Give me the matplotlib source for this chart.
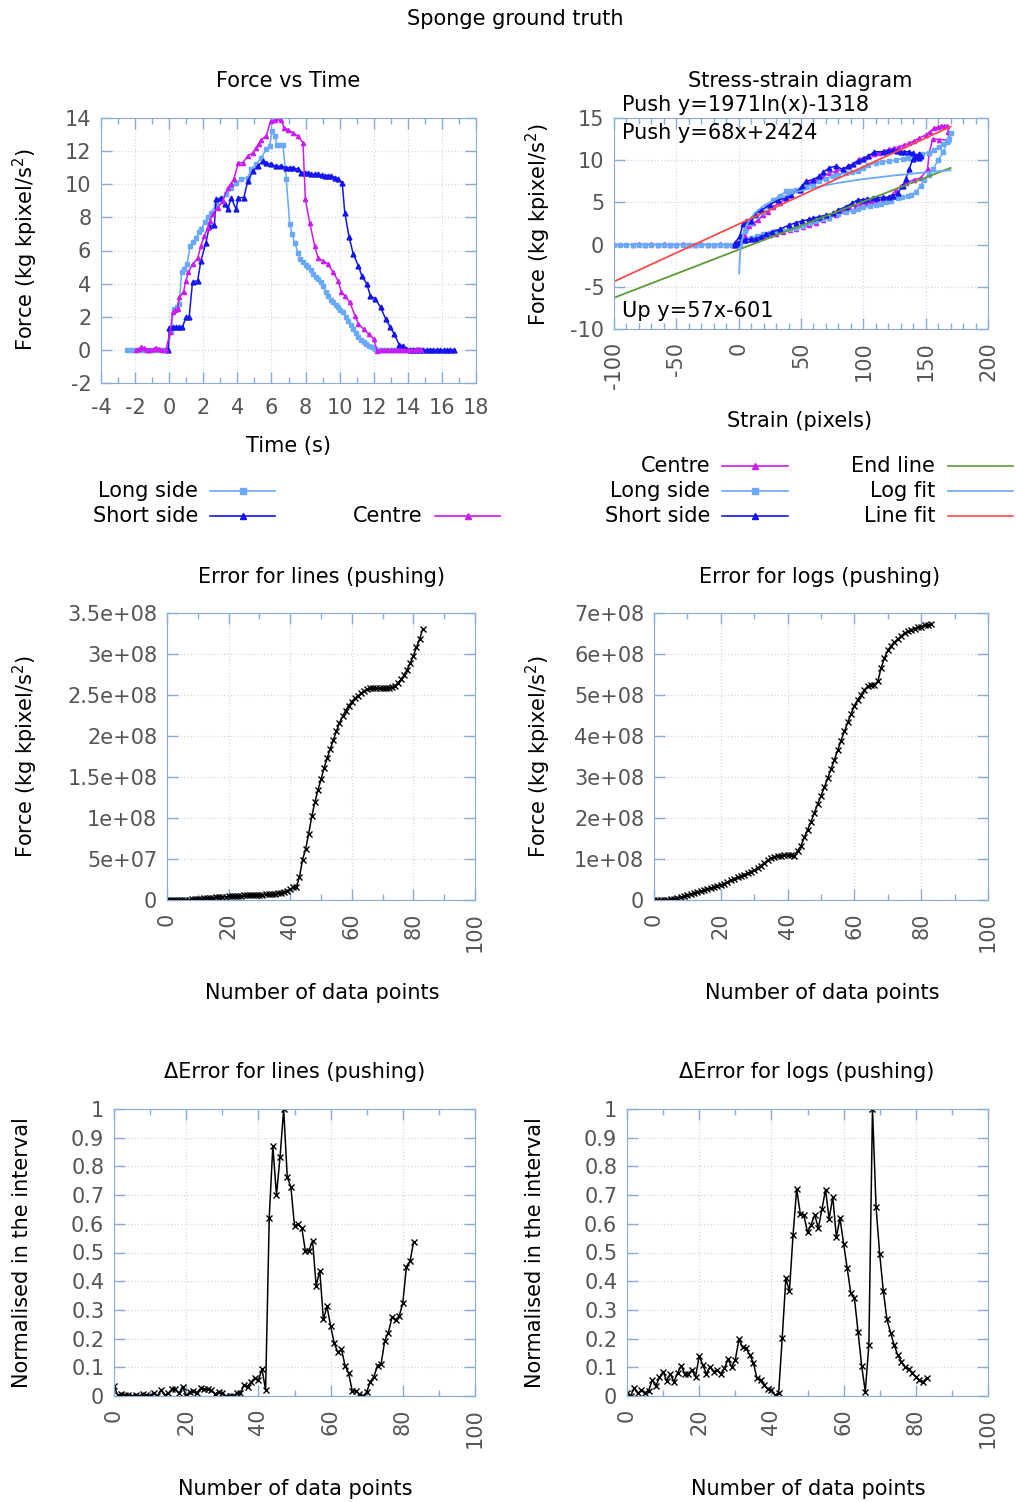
import matplotlib
matplotlib.use("Agg")
import matplotlib.pyplot as plt
from matplotlib.ticker import MultipleLocator, FuncFormatter
from matplotlib.lines import Line2D

# ---- Force vs Time (t [s], force) ----
long_side_t = [(-2.5, 0), (-2.3, 0), (-2.1, 0), (-1.9, 0), (-1.7, 0), (-1.5, 0), (-1.3, 0), (-1.1, 0),
               (-0.9, 0), (-0.7, 0), (-0.5, 0), (-0.3, 0), (-0.1, 0), (0.1, 1.06), (0.26, 2.47), (0.45, 2.6),
               (0.59, 2.77), (0.73, 4.68), (0.88, 4.9), (1.04, 5.18), (1.24, 6.28), (1.4, 6.5), (1.57, 6.78),
               (1.75, 7.1), (1.86, 7.28), (2.1, 7.73), (2.3, 8.0), (2.45, 8.29), (2.75, 8.73), (3.04, 9.09),
               (3.34, 9.39), (3.63, 9.79), (3.93, 10.09), (4.22, 10.3), (4.61, 10.4), (4.81, 10.9), (5.1, 11.2),
               (5.4, 11.6), (5.69, 12.1), (5.89, 12.3), (6.03, 13.2), (6.18, 12.9), (6.33, 12.4), (6.48, 12.4),
               (6.67, 12.4), (6.87, 10.3), (7.07, 7.63), (7.2, 7.0), (7.36, 6.48), (7.56, 5.84), (7.7, 5.5),
               (7.85, 5.28), (8.0, 5.1), (8.15, 4.98), (8.3, 4.8), (8.44, 4.58), (8.6, 4.4), (8.74, 4.27),
               (8.9, 4.1), (9.03, 3.87), (9.2, 3.5), (9.32, 3.27), (9.5, 3.0), (9.62, 2.87), (9.8, 2.7),
               (9.91, 2.57), (10.05, 2.4), (10.2, 2.27), (10.35, 2.0), (10.5, 1.77), (10.65, 1.5), (10.8, 1.26),
               (10.95, 1.0), (11.1, 0.76), (11.25, 0.6), (11.4, 0.46), (11.55, 0.35), (11.7, 0.26), (11.9, 0.15),
               (12.1, 0.06), (12.3, 0), (12.5, 0), (12.7, 0), (12.9, 0), (13.1, 0), (13.3, 0), (13.5, 0),
               (13.7, 0), (13.9, 0), (14.1, 0), (14.3, 0), (14.5, 0), (14.7, 0), (14.8, 0)]
short_side_t = [(-0.05, 0), (0.0, 1.3), (0.2, 1.36), (0.4, 1.36), (0.6, 1.36), (0.78, 1.36), (0.98, 1.97),
                (1.17, 1.97), (1.37, 4.11), (1.67, 4.17), (1.86, 5.38), (2.16, 6.48), (2.36, 7.49), (2.65, 7.53),
                (2.75, 9.09), (3.04, 9.15), (3.25, 8.8), (3.44, 8.49), (3.63, 9.19), (3.93, 8.49), (4.06, 9.19),
                (4.38, 9.19), (4.61, 10.2), (4.91, 10.8), (5.2, 11.1), (5.5, 11.4), (5.69, 11.3), (5.99, 11.2),
                (6.28, 11.1), (6.58, 11.1), (6.87, 11.0), (7.07, 11.0), (7.26, 11.0), (7.56, 10.9), (7.75, 10.7),
                (7.95, 10.7), (8.15, 10.65), (8.34, 10.6), (8.55, 10.6), (8.74, 10.6), (8.95, 10.55),
                (9.13, 10.5), (9.33, 10.5), (9.52, 10.5), (9.72, 10.4), (9.91, 10.3), (10.15, 10.1),
                (10.3, 8.29), (10.55, 6.84), (10.8, 5.78), (11.1, 5.08), (11.3, 4.47), (11.6, 3.97),
                (11.8, 3.27), (12.1, 3.07), (12.4, 2.57), (12.7, 1.87), (12.98, 1.36), (13.2, 0.96),
                (13.5, 0.3), (13.7, 0.26), (13.9, 0.06), (14.1, 0), (14.3, 0), (14.5, 0), (14.7, 0), (14.9, 0),
                (15.1, 0), (15.3, 0), (15.5, 0), (15.7, 0), (15.9, 0), (16.1, 0), (16.3, 0), (16.5, 0), (16.7, 0)]
centre_t = [(-1.96, 0), (-1.8, 0.05), (-1.65, 0.15), (-1.5, 0.1), (-1.3, 0.02), (-1.1, 0.02), (-0.9, 0.05),
            (-0.75, 0.1), (-0.6, 0.05), (-0.4, 0), (-0.2, -0.02), (0.06, 1.06), (0.2, 2.27), (0.35, 2.4),
            (0.49, 2.47), (0.59, 3.17), (0.84, 3.51), (0.98, 4.17), (1.12, 4.68), (1.37, 5.18), (1.67, 5.52),
            (1.86, 6.28), (2.06, 6.88), (2.26, 7.38), (2.4, 7.8), (2.55, 8.19), (2.85, 8.59), (3.14, 8.99),
            (3.44, 9.79), (3.6, 10.0), (3.79, 10.3), (4.06, 11.3), (4.32, 11.3), (4.61, 11.7), (4.91, 11.9),
            (5.1, 12.2), (5.25, 12.45), (5.4, 12.7), (5.69, 12.9), (5.95, 13.8), (6.18, 13.9), (6.38, 14.0),
            (6.58, 13.9), (6.73, 13.4), (6.97, 13.3), (7.26, 13.1), (7.56, 12.9), (7.85, 12.5), (7.99, 9.09),
            (8.24, 7.69), (8.54, 6.28), (8.74, 5.52), (9.03, 5.38), (9.32, 5.18), (9.62, 4.68), (9.91, 4.17),
            (10.1, 3.51), (10.3, 3.27), (10.6, 2.87), (10.9, 2.07), (11.1, 1.57), (11.4, 1.26), (11.7, 0.96),
            (12.0, 0.66), (12.2, -0.04), (12.4, 0), (12.6, 0), (12.8, 0), (13.0, 0), (13.2, 0), (13.4, 0),
            (13.6, 0), (13.8, 0), (14.0, 0), (14.2, 0), (14.4, 0), (14.6, 0.08), (14.8, 0)]

# ---- Stress-strain (strain [pixels], force) ----
centre_ss = [(-85, 0), (-80, 0.1), (-75, 0), (-70, 0.05), (-65, 0), (-60, 0.05), (-55, 0), (-50, 0),
             (-45, 0.05), (-40, 0), (-35, 0), (-30, 0.05), (-25, 0), (-20, 0), (-15, 0.05), (-10, 0), (-5, -0.05),
             (-2, 0.1), (0.8, 0.4), (4.8, 1.0), (6.1, 2.0), (8, 2.2), (11.5, 2.5), (15.5, 2.9), (19.5, 3.5),
             (23.5, 3.9), (27.5, 4.5), (32.8, 4.9), (38.1, 5.5), (42.1, 5.9), (47.5, 6.5), (51.5, 6.9),
             (56.8, 7.3), (62.1, 7.7), (67.5, 8.1), (72.8, 8.5), (78.1, 8.7), (83.5, 8.9), (88.8, 9.3),
             (92, 9.6), (96.8, 10.1), (100.8, 10.3), (104.8, 10.5), (108.8, 10.7), (112.8, 10.9), (116.8, 11.1),
             (120.8, 11.3), (124.8, 11.4), (128.8, 11.6), (132.8, 11.8), (136.8, 12.0), (140.8, 12.3),
             (144.8, 12.6), (150.1, 13.0), (153.5, 13.4), (156.8, 13.8), (160, 13.9), (162.1, 14.0), (165, 14.0),
             (167.5, 14.0), (168.3, 13.4), (168.8, 12.8), (167.5, 12.4), (161, 12.45), (155.5, 12.5),
             (152.8, 10.8), (151.5, 8.95), (146.1, 7.9), (140.8, 7.7), (134.1, 7.3), (130, 6.9), (126.1, 6.5),
             (122.1, 5.7), (118.8, 5.55), (115.5, 5.4), (110.1, 5.1), (106, 5.0), (102.1, 4.9), (98, 4.75),
             (94.1, 4.6), (88.8, 4.5), (83.5, 4.0), (78.1, 3.5), (72.8, 3.2), (67.5, 2.9), (62.1, 2.6),
             (56.8, 2.3), (51.5, 2.1), (46.1, 1.9), (40.8, 1.7), (35.5, 1.5), (30.1, 1.3), (24.8, 1.1),
             (19.5, 0.9), (14.1, 0.7), (10, 0.65), (6.1, 0.58), (0.8, 0.3), (-4.8, 0)]
long_side_ss = [(-100, 0), (-95, 0), (-90, 0), (-85, 0), (-80, 0), (-75, 0), (-70, 0), (-65, 0), (-60, 0),
                (-55, 0), (-50, 0), (-45, 0), (-40, 0), (-35, 0), (-30, 0), (-25, 0), (-20, 0), (-15, 0),
                (-10, 0), (-5, 0), (0, 0.2), (2, 1.0), (4.8, 1.6), (6, 2.5), (9.5, 2.6), (14.1, 3.4), (19.5, 3.9),
                (23, 4.6), (27.5, 5.3), (33, 5.8), (38.1, 6.3), (42, 6.4), (46.1, 6.5), (50, 6.6), (54.1, 6.9),
                (60, 7.2), (64.8, 7.5), (70, 7.8), (75.5, 8.1), (80, 8.3), (86.1, 8.5), (91, 8.6), (95.5, 8.7),
                (99.5, 9.1), (104, 9.4), (110.1, 9.7), (115, 9.8), (120.8, 9.9), (126, 10.0), (131.5, 10.2),
                (136, 10.3), (142.1, 10.5), (147, 10.7), (152.8, 10.9), (157, 11.2), (160.8, 11.6), (164, 11.9),
                (167.5, 12.1), (169, 12.5), (170, 13.2), (168, 12.3), (164, 11.0), (160, 10.0), (156, 9.0),
                (152.8, 8.3), (149, 7.6), (146, 7.0), (142.1, 6.2), (138, 5.9), (135.5, 5.7), (131, 5.6),
                (127.5, 5.5), (122, 5.2), (118.1, 5.0), (114, 4.85), (110.1, 4.7), (105, 4.55), (99.5, 4.4),
                (95.5, 4.2), (91.5, 4.0), (86.1, 3.9), (80, 3.6), (72.8, 3.2), (67, 3.0), (62.1, 2.8), (57, 2.5),
                (51.5, 2.2), (46, 2.0), (40.8, 1.8), (35, 1.7), (30.1, 1.6), (25, 1.4), (19.5, 1.2), (15, 1.0),
                (10.1, 0.8), (4.8, 0.4), (0.8, 0)]
short_side_ss = [(-3, 0.2), (0.8, 1.0), (3.5, 2.4), (6.1, 2.8), (10.2, 2.8), (12.8, 3.6), (18.1, 4.1),
                 (24.8, 4.7), (31.5, 5.3), (38.1, 5.5), (42.1, 5.9), (48.8, 6.5), (51, 7.0), (54.1, 7.5),
                 (59.5, 7.7), (64.8, 8.1), (68, 8.6), (72.8, 9.1), (78.1, 9.3), (83.5, 8.9), (87.5, 9.3),
                 (91.5, 9.5), (95.5, 9.9), (99.5, 10.1), (104, 10.5), (108.8, 11.0), (115.5, 11.0), (120, 11.1),
                 (123.5, 11.2), (127, 11.1), (130.1, 11.0), (133, 11.0), (136.8, 11.0), (140, 10.8),
                 (142.1, 10.5), (144.8, 10.3), (146, 10.5), (145, 10.7), (143, 10.4), (139.5, 10.1),
                 (136.8, 8.9), (134, 7.8), (131.5, 6.9), (127.5, 6.1), (124, 5.8), (120.8, 5.6), (115.5, 5.6),
                 (111, 5.55), (107.5, 5.5), (103, 5.4), (99.5, 5.3), (95.5, 5.3), (91, 4.9), (86.1, 4.5),
                 (80, 4.1), (75.5, 3.7), (70, 3.5), (64.8, 3.3), (60, 3.15), (56.8, 3.0), (51, 2.8), (46.1, 2.6),
                 (40, 2.3), (32.8, 1.8), (27, 1.5), (22.1, 1.2), (18, 0.95), (14.1, 0.7), (10, 0.65), (4.8, 0.6),
                 (-0.5, 0.2), (-3, 0)]
end_line = [(-100, -6.301), (170, 9.089)]          # Up y=57x-601
line_fit = [(-100, -4.376), (170, 13.984)]         # Push y=68x+2424
log_fit = [(0.35, -3.39), (1, -1.32), (2, 0.05), (4, 1.41), (7, 2.52), (10, 3.22), (15, 4.02), (20, 4.59),
           (30, 5.39), (45, 6.19), (60, 6.75), (80, 7.32), (100, 7.76), (125, 8.20), (150, 8.56), (170, 8.81)]

# ---- Errors (x = number of data points 0..83) ----
err_lines = [0, 0, 0, 0, 0.001, 0.002, 0.004, 0.006, 0.008, 0.01, 0.013, 0.016, 0.019, 0.022, 0.025, 0.028,
             0.031, 0.035, 0.038, 0.04, 0.043, 0.045, 0.047, 0.05, 0.052, 0.055, 0.057, 0.06, 0.062, 0.064,
             0.066, 0.067, 0.068, 0.07, 0.073, 0.077, 0.083, 0.09, 0.1, 0.11, 0.13, 0.155, 0.16, 0.28, 0.49,
             0.62, 0.81, 1.02, 1.19, 1.34, 1.47, 1.61, 1.73, 1.84, 1.95, 2.06, 2.16, 2.24, 2.31, 2.37, 2.42,
             2.46, 2.49, 2.52, 2.55, 2.57, 2.58, 2.58, 2.58, 2.58, 2.58, 2.58, 2.59, 2.6, 2.61, 2.65, 2.69,
             2.74, 2.81, 2.89, 2.98, 3.08, 3.18, 3.30]
err_logs = [0, 0.001, 0.003, 0.006, 0.01, 0.016, 0.03, 0.05, 0.07, 0.095, 0.12, 0.14, 0.165, 0.19, 0.215,
            0.24, 0.265, 0.29, 0.32, 0.345, 0.37, 0.4, 0.44, 0.48, 0.515, 0.55, 0.58, 0.62, 0.65, 0.69, 0.73,
            0.78, 0.84, 0.9, 0.97, 1.02, 1.05, 1.07, 1.08, 1.09, 1.1, 1.09, 1.08, 1.2, 1.32, 1.53, 1.71, 1.91,
            2.12, 2.34, 2.54, 2.75, 2.97, 3.19, 3.42, 3.65, 3.89, 4.11, 4.33, 4.54, 4.74, 4.88, 5.0, 5.13,
            5.21, 5.24, 5.25, 5.33, 5.66, 5.9, 6.09, 6.2, 6.29, 6.36, 6.44, 6.51, 6.55, 6.59, 6.62, 6.66,
            6.67, 6.7, 6.71, 6.72]
derr_lines = [0.035, 0.003, 0.006, 0.003, 0.003, 0.001, 0.003, 0.001, 0.006, 0.003, 0.001, 0.012, 0.0, 0.021,
              0.003, 0.009, 0.023, 0.023, 0.009, 0.033, 0.0, 0.015, 0.019, 0.012, 0.027, 0.023, 0.023, 0.021,
              0.007, 0.015, 0.009, 0.0, 0.0, 0.0, 0.009, 0.009, 0.038, 0.033, 0.05, 0.062, 0.056, 0.093, 0.021,
              0.62, 0.872, 0.7, 0.833, 1.0, 0.762, 0.728, 0.593, 0.599, 0.587, 0.506, 0.506, 0.541, 0.384,
              0.437, 0.267, 0.312, 0.244, 0.184, 0.152, 0.163, 0.106, 0.079, 0.017, 0.017, 0.007, 0.0, 0.013,
              0.05, 0.067, 0.106, 0.112, 0.193, 0.221, 0.274, 0.265, 0.279, 0.323, 0.451, 0.469, 0.538]
derr_logs = [0.009, 0.001, 0.027, 0.009, 0.021, 0.012, 0.019, 0.056, 0.035, 0.065, 0.085, 0.053, 0.077, 0.05,
             0.079, 0.106, 0.077, 0.077, 0.091, 0.067, 0.14, 0.108, 0.077, 0.102, 0.085, 0.091, 0.077, 0.097,
             0.128, 0.102, 0.126, 0.198, 0.17, 0.166, 0.143, 0.116, 0.062, 0.056, 0.038, 0.023, 0.021, 0.003,
             0.009, 0.203, 0.41, 0.366, 0.562, 0.721, 0.635, 0.631, 0.57, 0.597, 0.631, 0.585, 0.651, 0.719,
             0.616, 0.695, 0.553, 0.62, 0.53, 0.445, 0.358, 0.341, 0.224, 0.106, 0.015, 0.178, 1.0, 0.657,
             0.494, 0.367, 0.267, 0.221, 0.178, 0.143, 0.12, 0.102, 0.093, 0.081, 0.067, 0.056, 0.05, 0.062]

C_LONG = '#6aa8f8'
C_SHORT = '#1414ee'
C_CENTRE = '#c81cf0'
C_END = '#5c9c38'
C_LINE = '#ff4a4a'
FRAME = '#8aaad8'
TICKTXT = '#555555'
FS = 15

W, H = 1016, 1502
fig = plt.figure(figsize=(W / 100, H / 100), dpi=100)


def px_axes(x0, y0, x1, y1):
    return fig.add_axes([x0 / W, 1 - y1 / H, (x1 - x0) / W, (y1 - y0) / H])


def style(ax, xlim, ylim, xmaj, xmin, ymaj, rot=0):
    ax.set_xlim(*xlim)
    ax.set_ylim(*ylim)
    ax.xaxis.set_major_locator(MultipleLocator(xmaj))
    ax.xaxis.set_minor_locator(MultipleLocator(xmin))
    ax.yaxis.set_major_locator(MultipleLocator(ymaj))
    fmt = FuncFormatter(lambda v, p: '%g' % v)
    ax.xaxis.set_major_formatter(fmt)
    ax.yaxis.set_major_formatter(fmt)
    ax.tick_params(which='both', direction='in', top=True, right=True, color=FRAME,
                   labelcolor=TICKTXT, labelsize=FS)
    ax.tick_params(which='major', length=8, width=1)
    ax.tick_params(which='minor', length=4, width=1)
    ax.tick_params(axis='y', pad=7)
    ax.tick_params(axis='x', pad=9 if rot else 11)
    for s in ax.spines.values():
        s.set_color(FRAME)
    ax.grid(True, which='major', color='#c4d2ea', linestyle=(0, (1, 2)), linewidth=0.8)
    ax.set_axisbelow(True)
    if rot:
        for lab in ax.get_xticklabels():
            lab.set_rotation(90)


def ftext(x, y, s, **kw):
    kw.setdefault('fontsize', FS)
    kw.setdefault('ha', 'center')
    kw.setdefault('va', 'center')
    fig.text(x / W, 1 - y / H, s, **kw)


def legend_sample(x0, x1, y, color, marker=None, ms=4):
    xs = [x0 / W, (x0 + x1) / 2 / W, x1 / W]
    ys = [1 - y / H] * 3
    ln = Line2D(xs, ys, transform=fig.transFigure, color=color, lw=1.2,
                marker=marker if marker else '', markevery=[1], ms=ms, mec=color, mfc=color)
    fig.add_artist(ln)


def xy(pairs):
    return [p[0] for p in pairs], [p[1] for p in pairs]


YLAB = r'Force (kg kpixel/s$^2$)'
ftext(515, 19, 'Sponge ground truth')

# ---- top left ----
ax = px_axes(101, 118, 476, 383)
for data, c, m, ms in [(long_side_t, C_LONG, 's', 3), (short_side_t, C_SHORT, '^', 3.5),
                       (centre_t, C_CENTRE, '^', 3)]:
    x, y = xy(data)
    ax.plot(x, y, color=c, lw=1.1, marker=m, ms=ms, mec=c, mfc=c)
style(ax, (-4, 18), (-2, 14), 2, 1, 2)
ftext(288, 81, 'Force vs Time')
ftext(288, 446, 'Time (s)')
ftext(25, 250, YLAB, rotation=90)
ftext(198, 491, 'Long side', ha='right')
legend_sample(210, 275, 491, C_LONG, 's')
ftext(198, 516, 'Short side', ha='right')
legend_sample(210, 275, 516, C_SHORT, '^')
ftext(423, 516, 'Centre', ha='right')
legend_sample(435, 500, 516, C_CENTRE, '^')

# ---- top right ----
ax = px_axes(614, 118, 988, 329)
for data, c, m, ms in [(centre_ss, C_CENTRE, '^', 3), (long_side_ss, C_LONG, 's', 3),
                       (short_side_ss, C_SHORT, '^', 3.5)]:
    x, y = xy(data)
    ax.plot(x, y, color=c, lw=1.1, marker=m, ms=ms, mec=c, mfc=c)
for data, c in [(end_line, C_END), (log_fit, C_LONG), (line_fit, C_LINE)]:
    x, y = xy(data)
    ax.plot(x, y, color=c, lw=1.3)
style(ax, (-100, 200), (-10, 15), 50, 10, 5, rot=1)
ftext(800, 81, 'Stress-strain diagram')
ftext(800, 421, 'Strain (pixels)')
ftext(538, 225, YLAB, rotation=90)
ftext(622, 105, 'Push y=1971ln(x)-1318', ha='left')
ftext(622, 133, 'Push y=68x+2424', ha='left')
ftext(622, 311, 'Up y=57x-601', ha='left')
for lab, c, m, yy in [('Centre', C_CENTRE, '^', 466), ('Long side', C_LONG, 's', 491),
                      ('Short side', C_SHORT, '^', 516)]:
    ftext(710, yy, lab, ha='right')
    legend_sample(722, 788, yy, c, m)
for lab, c, yy in [('End line', C_END, 466), ('Log fit', C_LONG, 491), ('Line fit', C_LINE, 516)]:
    ftext(935, yy, lab, ha='right')
    legend_sample(948, 1013, yy, c)

# ---- middle row ----
n = list(range(len(err_lines)))
ax = px_axes(167, 613, 475, 900)
ax.plot(n, [v * 1e8 for v in err_lines], color='black', lw=1.1, marker='x', ms=4, mew=1)
style(ax, (0, 100), (0, 3.5e8), 20, 10, 0.5e8, rot=1)
ftext(322, 577, 'Error for lines (pushing)')
ftext(322, 993, 'Number of data points')
ftext(25, 757, YLAB, rotation=90)

ax = px_axes(654, 613, 988, 900)
ax.plot(list(range(len(err_logs))), [v * 1e8 for v in err_logs], color='black', lw=1.1, marker='x', ms=4, mew=1)
style(ax, (0, 100), (0, 7e8), 20, 10, 1e8, rot=1)
ftext(820, 577, 'Error for logs (pushing)')
ftext(822, 993, 'Number of data points')
ftext(538, 757, YLAB, rotation=90)

# ---- bottom row ----
ax = px_axes(114, 1109, 475, 1396)
ax.plot(list(range(len(derr_lines))), derr_lines, color='black', lw=1.1, marker='x', ms=4, mew=1)
style(ax, (0, 100), (0, 1), 20, 10, 0.1, rot=1)
ftext(295, 1072, '\u0394Error for lines (pushing)')
ftext(295, 1489, 'Number of data points')
ftext(22, 1253, 'Normalised in the interval', rotation=90)

ax = px_axes(627, 1109, 988, 1396)
ax.plot(list(range(len(derr_logs))), derr_logs, color='black', lw=1.1, marker='x', ms=4, mew=1)
style(ax, (0, 100), (0, 1), 20, 10, 0.1, rot=1)
ftext(807, 1072, '\u0394Error for logs (pushing)')
ftext(808, 1489, 'Number of data points')
ftext(535, 1253, 'Normalised in the interval', rotation=90)

fig.savefig('out.png', dpi=100)
